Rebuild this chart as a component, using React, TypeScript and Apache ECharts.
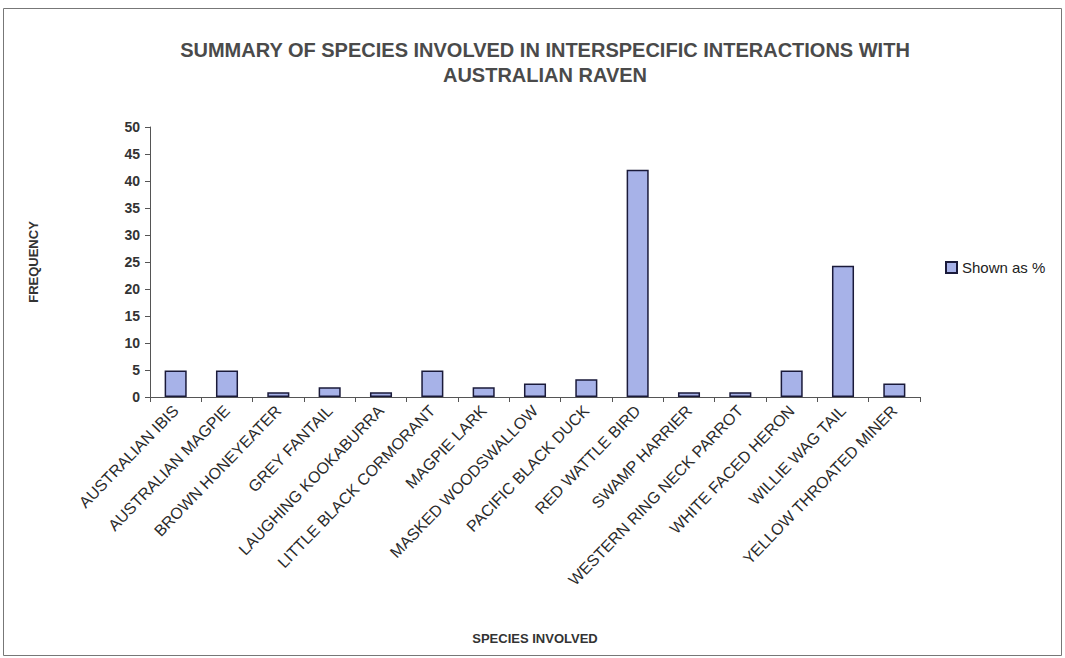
import React, { useEffect, useRef } from "react";
import * as echarts from "echarts";

const categories = [
  "AUSTRALIAN IBIS",
  "AUSTRALIAN MAGPIE",
  "BROWN HONEYEATER",
  "GREY FANTAIL",
  "LAUGHING KOOKABURRA",
  "LITTLE BLACK CORMORANT",
  "MAGPIE LARK",
  "MASKED WOODSWALLOW",
  "PACIFIC BLACK DUCK",
  "RED WATTLE BIRD",
  "SWAMP HARRIER",
  "WESTERN RING NECK PARROT",
  "WHITE FACED HERON",
  "WILLIE WAG TAIL",
  "YELLOW THROATED MINER",
];
const shownAsPercent = [4.9, 4.9, 0.9, 1.8, 0.9, 4.9, 1.8, 2.5, 3.3, 42.1, 0.9, 0.9, 4.9, 24.3, 2.5];
const seriesName = "Shown as %";
const titleText = "SUMMARY OF SPECIES INVOLVED IN INTERSPECIFIC INTERACTIONS WITH\nAUSTRALIAN RAVEN";

export default function App() {
  const ref = useRef<HTMLDivElement>(null);
  useEffect(() => {
    if (!ref.current) return;
    const chart = echarts.init(ref.current, null, { renderer: "svg" });
    const font = "'Liberation Sans', Arial, sans-serif";
    chart.setOption({
      animation: false,
      backgroundColor: "#ffffff",
      textStyle: { fontFamily: font },
      title: {
        text: titleText,
        left: 540,
        textAlign: "center",
        top: 32,
        textStyle: { fontSize: 20, fontWeight: "bold", color: "#4a4a4a", lineHeight: 25, fontFamily: font },
      },
      legend: {
        left: 940,
        top: 255,
        itemWidth: 11,
        itemHeight: 11,
        itemGap: 4,
        icon: "rect",
        textStyle: { fontSize: 15, color: "#222", fontFamily: font },
        data: [seriesName],
      },
      graphic: [
        {
          type: "rect",
          shape: { x: 3.5, y: 8.5, width: 1058, height: 647 },
          style: { fill: "none", stroke: "#777", lineWidth: 1 },
          silent: true,
        },
      ],
      grid: { left: 150, right: 145, top: 127, bottom: 261 },
      xAxis: {
        type: "category",
        data: categories,
        name: "SPECIES INVOLVED",
        nameLocation: "middle",
        nameGap: 235,
        nameTextStyle: { fontSize: 13, fontWeight: "bold", color: "#333", fontFamily: font },
        axisLine: { lineStyle: { color: "#555", width: 1 } },
        axisTick: { show: true, alignWithLabel: false, length: 5, lineStyle: { color: "#555" } },
        axisLabel: { rotate: 46, fontSize: 16, color: "#2a2a2a", margin: 11, interval: 0, fontFamily: font },
      },
      yAxis: {
        type: "value",
        min: 0,
        max: 50,
        interval: 5,
        name: "FREQUENCY",
        nameLocation: "middle",
        nameGap: 110,
        nameRotate: 90,
        nameTextStyle: { fontSize: 13, fontWeight: "bold", color: "#333", fontFamily: font },
        axisLine: { show: true, lineStyle: { color: "#555", width: 1 } },
        axisTick: { show: true, length: 5, lineStyle: { color: "#555" } },
        splitLine: { show: false },
        axisLabel: { fontSize: 14, fontWeight: "bold", color: "#333", margin: 10, fontFamily: font },
      },
      series: [
        {
          name: seriesName,
          type: "bar",
          data: shownAsPercent,
          barCategoryGap: "57%",
          itemStyle: { color: "#a7b2e8", borderColor: "#1a1a3a", borderWidth: 1.5 },
        },
      ],
    });
    return () => chart.dispose();
  }, []);
  return (
    <div
      ref={ref}
      style={{ position: "fixed", left: 0, top: 0, width: 1065, height: 658 }}
    />
  );
}
